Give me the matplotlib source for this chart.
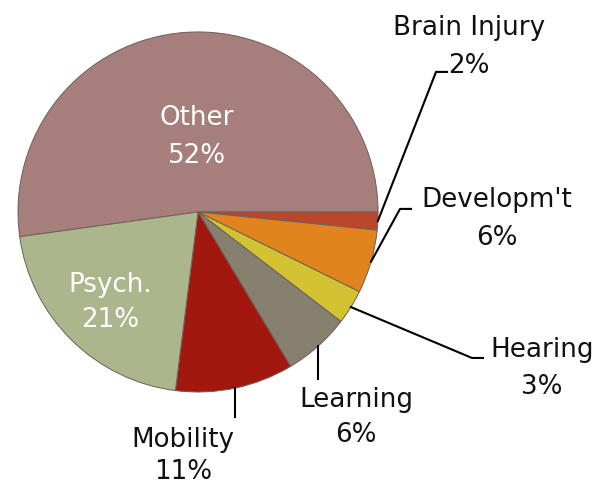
import matplotlib
matplotlib.use("Agg")
import matplotlib.pyplot as plt
import numpy as np

# categories and shares (%)
categorias = ["Other", "Brain Injury", "Developm't", "Hearing", "Learning", "Mobility", "Psych."]
valores = [52.2, 1.6, 5.7, 3.1, 6.0, 10.6, 20.8]
colores = ["#a67e7b", "#b9472c", "#e2841d", "#d3c232", "#86806e", "#a3180e", "#abb68c"]

plt.rcParams['font.family'] = ['DejaVu Sans']

fig = plt.figure(figsize=(6.02, 4.85), dpi=100)
ax = fig.add_axes([0, 0, 1, 1])

inicio = 180 + 7.9
cunas, _ = ax.pie(valores, colors=colores, startangle=inicio, counterclock=False,
                  radius=1.0, center=(0, 0), frame=True,
                  wedgeprops=dict(edgecolor='#6e5e5a', linewidth=0.7))
ax.set_xlim(-1.1, 2.244)
ax.set_ylim(-1.511, 1.183)
ax.axis('off')

fs = 18.8
etiquetas = [f"{v:.0f}%" for v in valores]

# posiciones de texto: (nombre x, nombre y, pct y, color)
pos_texto = {
    "Other": (-0.006, 0.528, 0.317, 'white'),
    "Psych.": (-0.489, -0.40, -0.594, 'white'),
    "Brain Injury": (1.505, 1.028, 0.817, '#111111'),
    "Developm't": (1.661, 0.072, -0.139, '#111111'),
    "Hearing": (1.911, -0.761, -0.967, '#111111'),
    "Learning": (0.878, -1.039, -1.233, '#111111'),
    "Mobility": (-0.083, -1.261, -1.439, '#111111'),
}

# codos de las lineas guia
codos = {
    "Brain Injury": [(1.322, 0.778), (1.383, 0.778)],
    "Developm't": [(1.122, 0.017), (1.183, 0.017)],
    "Hearing": [(1.522, -0.811), (1.583, -0.811)],
    "Learning": [(None, -0.928)],
    "Mobility": [(None, -1.139)],
}

for cuna, nombre, pct in zip(cunas, categorias, etiquetas):
    x, y_n, y_p, c = pos_texto[nombre]
    ax.text(x, y_n, nombre, ha='center', va='center', fontsize=fs, color=c)
    ax.text(x, y_p, pct, ha='center', va='center', fontsize=fs, color=c)
    if nombre in codos:
        ang = np.deg2rad((cuna.theta1 + cuna.theta2) / 2)
        x0, y0 = np.cos(ang), np.sin(ang)
        xs, ys = [x0], [y0]
        for px, py in codos[nombre]:
            xs.append(x0 if px is None else px)
            ys.append(py)
        ax.plot(xs, ys, color='black', linewidth=1.5)

fig.savefig("out.png", dpi=100)
